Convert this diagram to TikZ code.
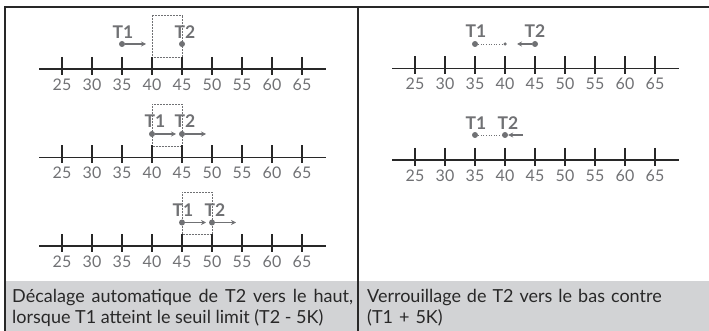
\documentclass[tikz,border=0pt]{standalone}
\usepackage{fontspec}
\setmainfont{Lato}
\usetikzlibrary{arrows.meta}
\definecolor{lbl}{RGB}{112,113,116}
\definecolor{ink}{RGB}{40,40,40}
\definecolor{band}{RGB}{210,211,213}
\newcommand\numline[3]{%
  \draw[axis] (#2-23,#3) -- (#2+264,#3);
  \foreach \v [count=\i from 0] in {25,30,...,65}{
    \draw[tickline] (#2+30*\i,#3-12) -- (#2+30*\i,#3+6);
    \node[num] (#1n\v) at (#2+30*\i,#3+15.5) {\v};
  }}
\begin{document}
\begin{tikzpicture}[x=1pt,y=-1pt,
  axis/.style={draw=ink,line width=1.7pt},
  tickline/.style={draw=ink,line width=1.4pt},
  num/.style={text=lbl,font=\fontsize{16}{16}\selectfont,inner sep=0pt},
  tl/.style={text=lbl,font=\fontsize{17.5}{17.5}\selectfont\bfseries,inner sep=0pt},
  dot/.style={circle,fill=lbl,inner sep=0pt,minimum size=6pt},
  sdot/.style={circle,fill=lbl,inner sep=0pt,minimum size=3.5pt},
  arr/.style={draw=lbl,line width=1.3pt,-{Stealth[length=5pt,width=5pt]}},
  dotl/.style={draw=lbl,line width=0.6pt,dotted},
  box/.style={draw=lbl,line width=0.5pt,densely dotted},
  captext/.style={text=ink,font=\fontsize{18}{21}\selectfont,inner sep=0pt,anchor=north west}]
\useasboundingbox (0,0) rectangle (709,331);
\fill[band] (5,281) rectangle (709,331);
\draw[ink,line width=1.2pt] (5,331) -- (5,7) -- (709,7);
\draw[ink,line width=1.2pt] (358,7) -- (358,331);
% left row 1
\draw[box] (152,15) rectangle (182,57);
\numline{a}{62}{69}
\node[tl] (a1l) at (123,32) {T1};
\node[tl] (a2l) at (185,32) {T2};
\node[dot] (a1) at (122,44) {};
\node[dot] (a2) at (182,44) {};
\coordinate (a1e) at (146,44);
\draw[arr] (a1) -- (a1e);
% left row 2
\draw[box] (152,104.5) rectangle (182,146);
\numline{b}{62}{157.5}
\node[tl] (b1l) at (155,121.5) {T1};
\node[tl] (b2l) at (185,121.5) {T2};
\node[dot] (b1) at (152,134) {};
\node[dot] (b2) at (182,134) {};
\coordinate (b1e) at (176,134);
\coordinate (b2e) at (206,134);
\draw[arr] (b1) -- (b1e);
\draw[arr] (b2) -- (b2e);
% left row 3
\draw[box] (182,192.5) rectangle (212,234);
\numline{c}{62}{246}
\node[tl] (c1l) at (183,210) {T1};
\node[tl] (c2l) at (215,210) {T2};
\node[dot] (c1) at (182,222.5) {};
\node[dot] (c2) at (212,222.5) {};
\coordinate (c1e) at (206,222.5);
\coordinate (c2e) at (236,222.5);
\draw[arr] (c1) -- (c1e);
\draw[arr] (c2) -- (c2e);
% right row 1
\numline{d}{415}{68.5}
\node[tl] (d1l) at (476,31.5) {T1};
\node[tl] (d2l) at (535,31.5) {T2};
\node[dot] (d1) at (475,44) {};
\node[sdot] (dm) at (505,44) {};
\node[dot] (d2) at (535,44) {};
\draw[dotl] (d1) -- (dm);
\coordinate (d2e) at (517,44);
\draw[arr] (d2) -- (d2e);
% right row 2
\numline{e}{415}{160}
\node[tl] (e1l) at (476,123) {T1};
\node[tl] (e2l) at (508,123) {T2};
\node[dot] (e1) at (475,135) {};
\node[dot] (e2) at (505,135) {};
\draw[dotl] (e1) -- (e2);
\coordinate (e2s) at (523,135);
\draw[arr] (e2s) -- (e2);
% captions
\node[captext,text width=341pt,align=justify] (capl) at (12,289) {D\'ecalage automatique de T2 vers le haut,\linebreak lorsque T1 atteint le seuil limit (T2 - 5K)};
\node[captext,text width=330pt,align=left] (capr) at (367,289) {Verrouillage de T2 vers le bas contre\\(T1 + 5K)};
\end{tikzpicture}
\end{document}
